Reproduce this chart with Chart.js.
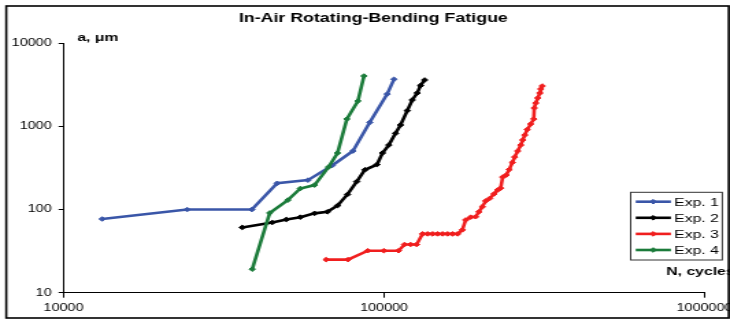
<!DOCTYPE html>
<html>
<head>
<meta charset="utf-8">
<script src="https://cdn.jsdelivr.net/npm/chart.js@4.4.1/dist/chart.umd.min.js"></script>
<style>
html,body{margin:0;padding:0;background:#fff;overflow:hidden;}
</style>
</head>
<body>
<canvas id="c" width="533" height="320" style="width:730px;height:320px;display:block;background:#fff"></canvas>
<script>
// ---- data ----
const titleText = 'In-Air Rotating-Bending Fatigue';
const yAxisLabel = 'a, \u03bcm';
const xAxisLabel = 'N, cycles';
const seriesLabels = ['Exp. 1', 'Exp. 2', 'Exp. 3', 'Exp. 4'];
const xTicks = [10000, 100000, 1000000];
const yTicks = [10, 100, 1000, 10000];

const exp1N = [13200, 24300, 38700, 46400, 57900, 68900, 80000, 90300, 102300, 107400];
const exp1A = [77, 100, 100, 207, 226, 339, 506, 1120, 2450, 3690];

const exp2N = [36100, 44800, 49600, 54800, 60700, 66600, 71700, 76900, 82200, 87200, 95100, 98900, 103500, 108600, 112600, 118200, 122500, 126900, 130000, 133900];
const exp2A = [61, 70, 76, 81, 90, 94, 112, 152, 217, 301, 348, 479, 597, 826, 1040, 1550, 2080, 2520, 3100, 3620];

const exp3N = [66000, 77200, 89000, 99900, 111000, 115900, 121000, 126400, 131900, 136800, 141800, 147000, 152300, 157900, 163700, 169700, 175600, 179800, 186400, 193200, 197800, 202700, 207600, 213600, 220300, 226300, 231200, 234600, 240600, 245800, 251500, 255700, 261300, 267100, 270900, 274900, 279900, 287000, 293300, 294300, 297500, 301800, 306200, 308400, 311700];
const exp3A = [25, 25, 32, 32, 32, 38, 38, 38, 51, 51, 51, 51, 51, 51, 51, 51, 57, 75, 81, 82, 94, 108, 127, 136, 154, 172, 181, 246, 260, 303, 368, 428, 506, 597, 686, 788, 918, 1069, 1227, 1665, 1912, 2197, 2523, 2819, 3064];

const exp4N = [38800, 44000, 50100, 54800, 60700, 67100, 71600, 76600, 82900, 86600];
const exp4A = [19.2, 91, 130, 179, 197, 324, 479, 1230, 2020, 4040];

const seriesColors = ['#3A56A8', '#000000', '#F01E1E', '#1B7B3A'];

// ---- build ----
const pairs = (xs, ys) => xs.map((x, i) => ({x: x, y: ys[i]}));
const allN = [exp1N, exp2N, exp3N, exp4N];
const allA = [exp1A, exp2A, exp3A, exp4A];

const FONT = '"Liberation Sans", Arial, Helvetica, sans-serif';

const datasets = seriesLabels.map((lab, i) => ({
  label: lab,
  data: pairs(allN[i], allA[i]),
  borderColor: seriesColors[i],
  backgroundColor: seriesColors[i],
  borderWidth: 2.6,
  pointStyle: 'rectRot',
  pointRadius: 2.3,
  pointBorderWidth: 1,
  pointBackgroundColor: seriesColors[i],
  pointBorderColor: seriesColors[i],
  tension: 0,
  fill: false,
  order: 4 - i
}));

function drawDiamond(ctx, x, y, r, color) {
  ctx.save();
  ctx.fillStyle = color;
  ctx.strokeStyle = color;
  ctx.lineWidth = 1;
  ctx.beginPath();
  ctx.moveTo(x, y - r);
  ctx.lineTo(x + r, y);
  ctx.lineTo(x, y + r);
  ctx.lineTo(x - r, y);
  ctx.closePath();
  ctx.fill();
  ctx.stroke();
  ctx.restore();
}

const overlay = {
  id: 'overlay',
  afterLayout(chart) {
    // centre the title over the same span as the reference
    if (chart.titleBlock) {
      chart.titleBlock.left = 30.8;
    }
  },
  afterDraw(chart) {
    const ctx = chart.ctx;
    ctx.save();
    ctx.fillStyle = '#000';
    ctx.textAlign = 'left';
    ctx.textBaseline = 'alphabetic';
    ctx.font = 'bold 11.5px ' + FONT;
    ctx.fillText(yAxisLabel, 56.4, 40.5);
    ctx.fillText(xAxisLabel, 486.5, 275.3);

    // legend
    const lx = 460.5, ly = 192.3, lw = 66.9, lh = 67.7;
    ctx.fillStyle = '#fff';
    ctx.fillRect(lx, ly, lw, lh);
    ctx.strokeStyle = '#333';
    ctx.lineWidth = 1;
    ctx.strokeRect(lx, ly, lw, lh);
    ctx.font = '11.5px ' + FONT;
    chart.data.datasets.forEach((ds, i) => {
      const y = 201.7 + i * 16.1;
      ctx.strokeStyle = ds.borderColor;
      ctx.lineWidth = ds.borderWidth;
      ctx.beginPath();
      ctx.moveTo(464.2, y);
      ctx.lineTo(489.9, y);
      ctx.stroke();
      drawDiamond(ctx, 477, y, 2.3, ds.borderColor);
      ctx.fillStyle = '#000';
      ctx.fillText(ds.label, 492.3, y + 4.1);
    });

    // outer border
    ctx.strokeStyle = '#000';
    ctx.lineWidth = 1.6;
    ctx.strokeRect(4.6, 6, 527.5, 312);
    ctx.restore();
  }
};

new Chart(document.getElementById('c'), {
  type: 'line',
  data: { datasets: datasets },
  plugins: [overlay],
  options: {
    responsive: false,
    animation: false,
    devicePixelRatio: 1,
    layout: { padding: { left: 0, right: 18.6, top: 0, bottom: 0 } },
    plugins: {
      legend: { display: false },
      tooltip: { enabled: false },
      title: {
        display: true,
        text: titleText,
        color: '#000',
        font: { family: FONT, size: 13, weight: 'bold', lineHeight: 1.2 },
        padding: { top: 10.2, bottom: 17.5 }
      }
    },
    scales: {
      x: {
        type: 'logarithmic',
        min: 10000,
        max: 1000000,
        afterBuildTicks: s => { s.ticks = xTicks.map(v => ({ value: v })); },
        afterFit: s => { s.height = 27.3; s.paddingLeft = 0; s.paddingRight = 0; },
        ticks: {
          autoSkip: false,
          maxRotation: 0,
          minRotation: 0,
          padding: 4,
          color: '#000',
          font: { family: FONT, size: 10.5 },
          callback: v => String(v)
        },
        grid: { drawOnChartArea: false, drawTicks: true, tickLength: 5, color: '#000', lineWidth: 1 },
        border: { display: true, color: '#000', width: 1 }
      },
      y: {
        type: 'logarithmic',
        min: 10,
        max: 10000,
        afterBuildTicks: s => { s.ticks = yTicks.map(v => ({ value: v })); },
        afterFit: s => { s.width = 46.4; s.paddingTop = 0; s.paddingBottom = 0; },
        ticks: {
          autoSkip: false,
          padding: 5,
          color: '#000',
          font: { family: FONT, size: 10.5 },
          callback: v => String(v)
        },
        grid: { drawOnChartArea: false, drawTicks: true, tickLength: 3.6, color: '#000', lineWidth: 1 },
        border: { display: true, color: '#000', width: 1 }
      }
    }
  }
});
</script>
</body>
</html>
